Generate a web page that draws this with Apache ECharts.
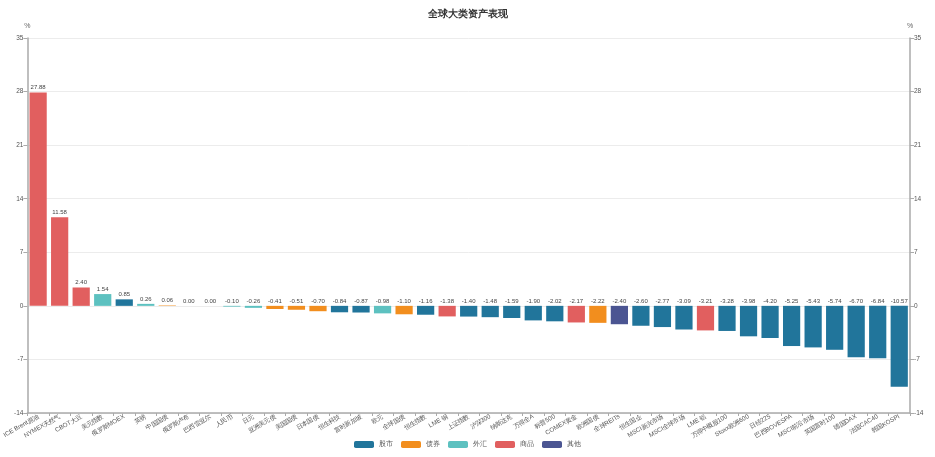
<!DOCTYPE html>
<html><head><meta charset="utf-8">
<script src="https://cdn.jsdelivr.net/npm/echarts@6/dist/echarts.min.js"></script>
<style>html,body{margin:0;padding:0;background:#fff}#c{width:935px;height:457px}</style>
</head><body><div id="c"></div>
<script>
const categories = ["ICE Brent原油","NYMEX天然气","CBOT大豆","美元指数","俄罗斯MOEX","英镑","中国国债","俄罗斯卢布","巴西雷亚尔","人民币","日元","亚洲美元债","美国国债","日本国债","恒生科技","富时新加坡","欧元","全球国债","恒生指数","LME 铜","上证指数","沪深300","纳斯达克","万得全A","标普500","COMEX黄金","欧洲国债","全球REITs","恒生国企","MSCI新兴市场","MSCI全球市场","LME 铝","万得中概股100","Stoxx欧洲600","日经225","巴西BOVESPA","MSCI前沿市场","英国富时100","德国DAX","法国CAC40","韩国KOSPI"];
const values = [27.88,11.58,2.40,1.54,0.85,0.26,0.06,0.00,0.00,-0.10,-0.26,-0.41,-0.51,-0.70,-0.84,-0.87,-0.98,-1.10,-1.16,-1.38,-1.40,-1.48,-1.59,-1.90,-2.02,-2.17,-2.22,-2.40,-2.60,-2.77,-3.09,-3.21,-3.28,-3.98,-4.20,-5.25,-5.43,-5.74,-6.70,-6.84,-10.57];
const types = ["商品","商品","商品","外汇","股市","外汇","债券","外汇","外汇","外汇","外汇","债券","债券","债券","股市","股市","外汇","债券","股市","商品","股市","股市","股市","股市","股市","商品","债券","其他","股市","股市","股市","商品","股市","股市","股市","股市","股市","股市","股市","股市","股市"];
const groups = ["股市","债券","外汇","商品","其他"];
const groupColors = ["#21759b","#f28e1e","#5dc1c0","#e15f5f","#4b5592"];
const yTicks = {min:-14, max:35, interval:7};

const series = groups.map((g,gi)=>({
  name:g, type:'bar', stack:'all', barCategoryGap:'20%',
  itemStyle:{color:groupColors[gi]},
  label:{show:true, position:'top', distance:2, fontSize:6, color:'#444', formatter:p=>Number(p.value).toFixed(2)},
  data: values.map((v,i)=> types[i]===g ? v : '-')
}));

const yAxisBase = (pos)=>({
  type:'value', position:pos, min:yTicks.min, max:yTicks.max, interval:yTicks.interval,
  name:'%', nameGap:8, nameTextStyle:{fontSize:7,color:'#666'},
  axisLine:{show:true, lineStyle:{color:'#aaa', width:1.5}},
  axisTick:{show:true, length:4, lineStyle:{color:'#aaa'}},
  axisLabel:{fontSize:6.5, color:'#555', margin:4},
  splitLine:{show:pos==='left', lineStyle:{color:'#ececec'}}
});

const chart = echarts.init(document.getElementById('c'), null, {renderer:'canvas'});
chart.setOption({
  animation:false,
  title:{text:'全球大类资产表现', left:'center', top:4, textStyle:{fontSize:10, fontWeight:'bold', color:'#333'}},
  legend:{data:groups, bottom:4, left:'center', itemWidth:20, itemHeight:7, itemGap:8, textStyle:{fontSize:6.5, color:'#555'}},
  grid:{left:27, right:25, top:38, bottom:44},
  xAxis:{type:'category', data:categories,
    axisLine:{onZero:false, lineStyle:{color:'#aaa', width:1.5}},
    axisTick:{show:true, length:3, lineStyle:{color:'#aaa'}},
    axisLabel:{interval:0, rotate:30, fontSize:6.3, color:'#555', margin:3}},
  yAxis:[yAxisBase('left'), yAxisBase('right')],
  series: series
});
</script></body></html>
